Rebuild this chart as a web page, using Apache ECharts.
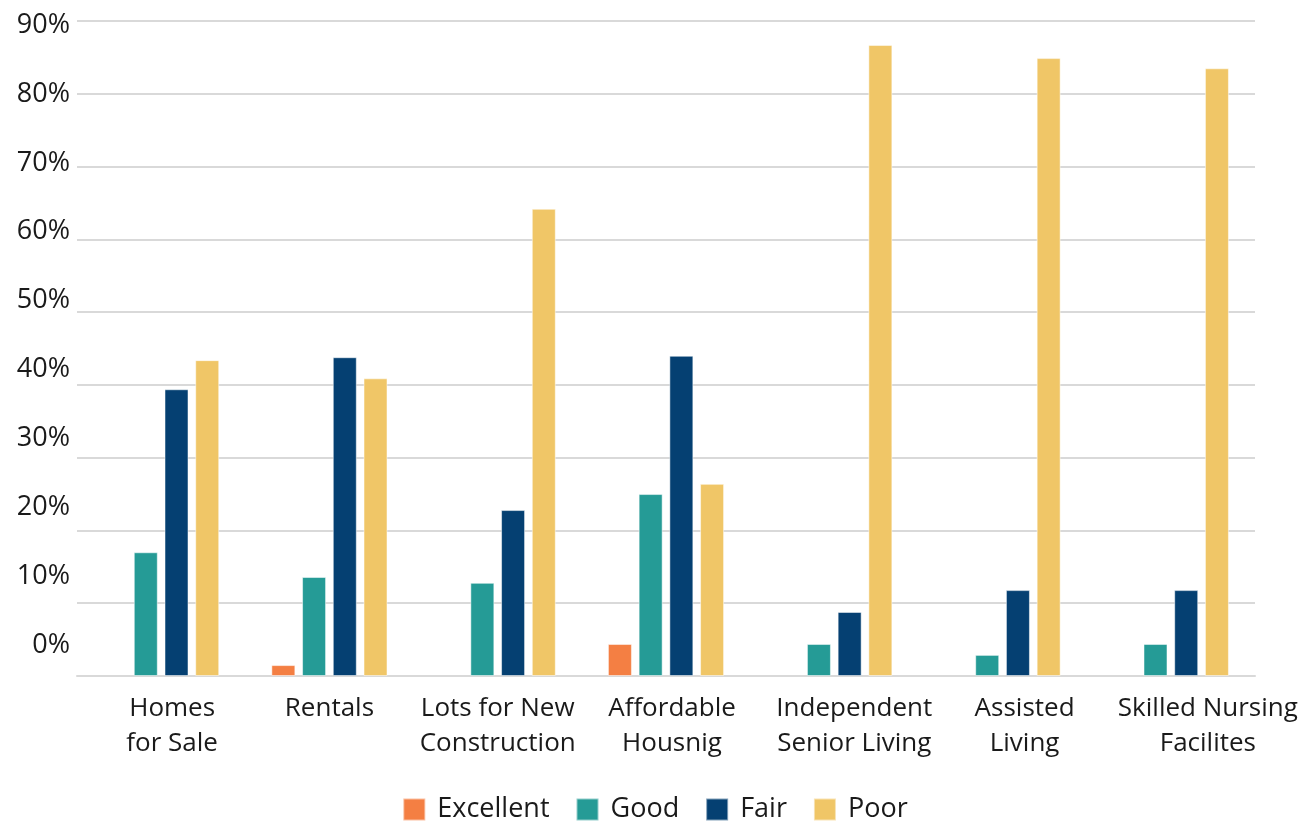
<!DOCTYPE html>
<html>
<head>
<meta charset="utf-8">
<script src="https://cdn.jsdelivr.net/npm/echarts@6/dist/echarts.min.js"></script>
<style>
html,body{margin:0;padding:0;background:#fff;}
#chart{width:1310px;height:824px;}
</style>
</head>
<body>
<div id="chart"></div>
<script>
const categories = ["Homes\nfor Sale", "Rentals", "Lots for New\nConstruction", "Affordable\nHousnig", "Independent\nSenior Living", "Assisted\nLiving", "Skilled Nursing\nFacilites"];
const seriesNames = ["Excellent", "Good", "Fair", "Poor"];
const excellent = [0, 1.5, 0, 4.4, 0, 0, 0];
const good = [17.0, 13.6, 12.8, 25.0, 4.4, 2.9, 4.4];
const fair = [39.4, 43.8, 22.8, 44.0, 8.8, 11.8, 11.8];
const poor = [43.4, 40.9, 64.2, 26.4, 86.7, 84.9, 83.5];
const tickValues = [0, 10, 20, 30, 40, 50, 60, 70, 80, 90];
const colors = ["#F47F43", "#259B96", "#054072", "#F0C667"];
// horizontal nudges of the category labels, as seen in the reference (style only)
const labelShift = [11, 0, 0, 6, 20, 22, 37];

const font = "'Open Sans', 'Noto Sans', sans-serif";
const chart = echarts.init(document.getElementById('chart'));
const dataSets = [excellent, good, fair, poor];

chart.setOption({
  animation: false,
  color: colors,
  textStyle: { fontFamily: font, color: '#1a1a1a' },
  grid: { left: 77, right: 55, top: 21, bottom: 148, containLabel: false },
  legend: {
    bottom: -4,
    left: 'center',
    icon: 'rect',
    itemWidth: 22,
    itemHeight: 22,
    itemGap: 26,
    textStyle: { fontSize: 27, fontFamily: font, color: '#1a1a1a', padding: [0, 0, 0, 7] },
    data: seriesNames
  },
  xAxis: {
    type: 'category',
    data: categories.map((c, i) => ({ value: c, textStyle: { padding: [0, 0, 0, labelShift[i] * 2] } })),
    axisTick: { show: false },
    axisLine: { lineStyle: { color: '#d9d9d9', width: 2 } },
    axisLabel: { interval: 0, fontSize: 26, fontFamily: font, color: '#1a1a1a', lineHeight: 35, margin: 15 }
  },
  yAxis: [
    {
      type: 'value',
      min: 0,
      max: 90,
      interval: 10,
      axisLabel: { show: false },
      axisLine: { show: false },
      axisTick: { show: false },
      splitLine: { lineStyle: { color: '#d9d9d9', width: 2 } }
    },
    {
      type: 'value',
      position: 'left',
      min: -4.5,
      max: 90.6,
      axisLine: { show: false },
      axisTick: { show: false },
      splitLine: { show: false },
      axisLabel: {
        customValues: tickValues,
        formatter: v => Math.round(v) + '%',
        fontSize: 27,
        fontFamily: font,
        color: '#1a1a1a',
        margin: 7
      }
    }
  ],
  series: seriesNames.map((name, i) => ({
    name: name,
    type: 'bar',
    yAxisIndex: 0,
    data: dataSets[i].map(v => v === 0 ? null : v),
    barWidth: 24,
    barGap: '28%',
    barCategoryGap: '31%',
    itemStyle: { color: colors[i], borderColor: 'rgba(255,255,255,0.5)', borderWidth: 1 }
  }))
});
</script>
</body>
</html>
